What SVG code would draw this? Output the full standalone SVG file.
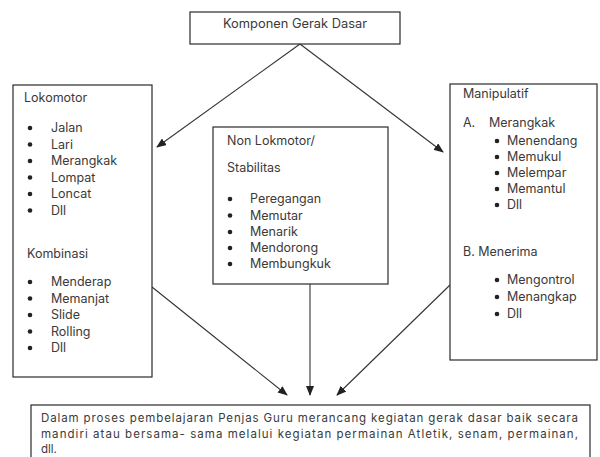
<svg xmlns="http://www.w3.org/2000/svg" width="600" height="457" viewBox="0 0 600 457">
<style>
.box{fill:#fff;stroke:#2a2a2a;stroke-width:1.2}
.t{font-family:Inter,"Open Sans","Liberation Sans",sans-serif;font-size:12.5px;fill:#3a3a3a}
.s{font-size:11.5px}
.b{fill:#222}
.c{stroke:#333;stroke-width:1.1;fill:none;marker-end:url(#ah)}
</style>
<defs>
<marker id="ah" markerWidth="10" markerHeight="8" refX="9" refY="4" orient="auto" markerUnits="userSpaceOnUse">
<path d="M0,0 L10,4 L0,8 Z" fill="#222"/>
</marker>
</defs>
<rect width="600" height="457" fill="#fff"/>
<g id="connectors">
<line class="c" x1="300" y1="44" x2="157" y2="147"/>
<line class="c" x1="300" y1="44" x2="443" y2="152"/>
<line class="c" x1="152" y1="287" x2="287" y2="395"/>
<line class="c" x1="310" y1="284" x2="310" y2="395"/>
<line class="c" x1="450" y1="285" x2="337" y2="395"/>
</g>
<g id="top">
<rect class="box" x="190" y="12" width="210" height="32"/>
<text class="t" x="295" y="28" text-anchor="middle" textLength="144" lengthAdjust="spacingAndGlyphs">Komponen Gerak Dasar</text>
</g>
<g id="lokomotor">
<rect class="box" x="13" y="85" width="139" height="292"/>
<text class="t" x="24" y="102">Lokomotor</text>
<circle class="b" cx="30" cy="128" r="2.3"/><text class="t" x="51" y="132">Jalan</text>
<circle class="b" cx="30" cy="144.5" r="2.3"/><text class="t" x="51" y="148.5">Lari</text>
<circle class="b" cx="30" cy="161" r="2.3"/><text class="t" x="51" y="165">Merangkak</text>
<circle class="b" cx="30" cy="177.5" r="2.3"/><text class="t" x="51" y="181.5">Lompat</text>
<circle class="b" cx="30" cy="194" r="2.3"/><text class="t" x="51" y="198">Loncat</text>
<circle class="b" cx="30" cy="210.5" r="2.3"/><text class="t" x="51" y="214.5">Dll</text>
<text class="t" x="27" y="258">Kombinasi</text>
<circle class="b" cx="30" cy="282" r="2.3"/><text class="t" x="51" y="286">Menderap</text>
<circle class="b" cx="30" cy="298.5" r="2.3"/><text class="t" x="51" y="302.5">Memanjat</text>
<circle class="b" cx="30" cy="315" r="2.3"/><text class="t" x="51" y="319">Slide</text>
<circle class="b" cx="30" cy="331.5" r="2.3"/><text class="t" x="51" y="335.5">Rolling</text>
<circle class="b" cx="30" cy="348" r="2.3"/><text class="t" x="51" y="352">Dll</text>
</g>
<g id="nonlokomotor">
<rect class="box" x="213" y="127" width="175" height="157"/>
<text class="t" x="227" y="145">Non Lokmotor/</text>
<text class="t" x="227" y="172">Stabilitas</text>
<circle class="b" cx="230" cy="199" r="2.3"/><text class="t" x="250" y="203">Peregangan</text>
<circle class="b" cx="230" cy="215.5" r="2.3"/><text class="t" x="250" y="219.5">Memutar</text>
<circle class="b" cx="230" cy="232" r="2.3"/><text class="t" x="250" y="236">Menarik</text>
<circle class="b" cx="230" cy="248" r="2.3"/><text class="t" x="250" y="252">Mendorong</text>
<circle class="b" cx="230" cy="264" r="2.3"/><text class="t" x="250" y="268">Membungkuk</text>
</g>
<g id="manipulatif">
<rect class="box" x="450" y="84" width="147" height="276"/>
<text class="t" x="463" y="98">Manipulatif</text>
<text class="t" x="463" y="127">A.</text><text class="t" x="489" y="127">Merangkak</text>
<circle class="b" cx="497" cy="141" r="2.3"/><text class="t" x="507" y="145">Menendang</text>
<circle class="b" cx="497" cy="157" r="2.3"/><text class="t" x="507" y="161">Memukul</text>
<circle class="b" cx="497" cy="173" r="2.3"/><text class="t" x="507" y="177">Melempar</text>
<circle class="b" cx="497" cy="189" r="2.3"/><text class="t" x="507" y="193">Memantul</text>
<circle class="b" cx="497" cy="205" r="2.3"/><text class="t" x="507" y="209">Dll</text>
<text class="t" x="463" y="256">B. Menerima</text>
<circle class="b" cx="497" cy="280" r="2.3"/><text class="t" x="507" y="284">Mengontrol</text>
<circle class="b" cx="497" cy="297" r="2.3"/><text class="t" x="507" y="301">Menangkap</text>
<circle class="b" cx="497" cy="314" r="2.3"/><text class="t" x="507" y="318">Dll</text>
</g>
<g id="bottom">
<rect class="box" x="31" y="405" width="559" height="70"/>
<text class="t s" x="41" y="422" textLength="537" lengthAdjust="spacing">Dalam proses pembelajaran  Penjas Guru merancang kegiatan gerak dasar baik secara</text>
<text class="t s" x="41" y="437.5" textLength="537" lengthAdjust="spacing">mandiri atau bersama- sama melalui kegiatan permainan Atletik, senam, permainan,</text>
<text class="t s" x="41" y="453">dll.</text>
</g>
</svg>
